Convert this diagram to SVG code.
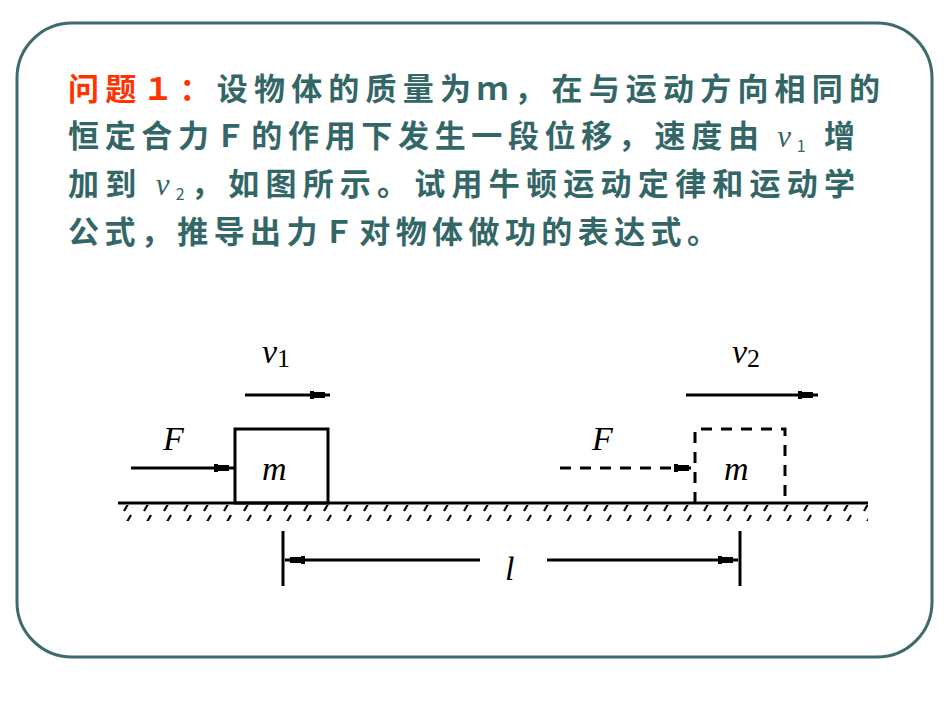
<svg xmlns="http://www.w3.org/2000/svg" width="950" height="713" viewBox="0 0 950 713">
<style>
.t{font-family:"Noto Sans CJK SC","Liberation Sans",sans-serif;font-size:31px;font-weight:bold;fill:#336666}
.r{fill:#ff3300}
.ln{stroke:#000;stroke-width:3;fill:none}
.d{stroke-dasharray:11 9}
.lab{font-family:"Liberation Serif",serif;font-style:italic;font-size:34px;fill:#000}
</style>
<defs>
<marker id="ah" viewBox="0 0 20 10" refX="20" refY="5" markerWidth="20" markerHeight="10" markerUnits="userSpaceOnUse" orient="auto"><path d="M0,1h4v8h-4zM3,2h12v6h-12z" fill="#000"/></marker>
<pattern id="hatch" width="20" height="16" patternUnits="userSpaceOnUse"><path d="M4,15L11,3" stroke="#000" stroke-width="2.2"/></pattern>
</defs>
<rect x="17" y="23" width="915" height="634" rx="55" fill="#fff" stroke="#3d6b6b" stroke-width="3"/>
<g id="text">
<text class="t" x="68" y="100" textLength="812" lengthAdjust="spacing"><tspan class="r">问题１：</tspan>设物体的质量为ｍ，在与运动方向相同的</text>
<text class="t" x="68" y="147" textLength="787" lengthAdjust="spacing">恒定合力Ｆ的作用下发生一段位移，速度由 <tspan font-style="italic" font-weight="normal" font-family="Liberation Serif">v</tspan><tspan font-size="16" font-weight="normal" dy="5">1</tspan><tspan dy="-5"> 增</tspan></text>
<text class="t" x="68" y="195" textLength="787" lengthAdjust="spacing">加到 <tspan font-style="italic" font-weight="normal" font-family="Liberation Serif">v</tspan><tspan font-size="16" font-weight="normal" dy="5">2</tspan><tspan dy="-5">，如图所示。试用牛顿运动定律和运动学</tspan></text>
<text class="t" x="68" y="243" textLength="650" lengthAdjust="spacing">公式，推导出力Ｆ对物体做功的表达式。</text>
</g>
<g id="ground">
<rect x="118" y="505" width="750" height="16" fill="url(#hatch)"/>
<line class="ln" x1="118" y1="503" x2="868" y2="503"/>
</g>
<g id="block1">
<rect class="ln" x="235" y="429" width="93" height="74"/>
<text class="lab" x="262" y="480">m</text>
</g>
<g id="block2">
<path class="ln d" d="M695,503V429H785V503"/>
<text class="lab" x="724" y="480">m</text>
</g>
<g id="connectors">
<line class="ln" x1="131" y1="468" x2="234" y2="468" marker-end="url(#ah)"/>
<line class="ln d" x1="560" y1="468" x2="694" y2="468" marker-end="url(#ah)"/>
<line class="ln" x1="245" y1="395" x2="330" y2="395" marker-end="url(#ah)"/>
<line class="ln" x1="686" y1="395" x2="818" y2="395" marker-end="url(#ah)"/>
<line class="ln" x1="283" y1="531" x2="283" y2="586"/>
<line class="ln" x1="740" y1="531" x2="740" y2="586"/>
<line class="ln" x1="480" y1="560" x2="285" y2="560" marker-end="url(#ah)"/>
<line class="ln" x1="547" y1="560" x2="738" y2="560" marker-end="url(#ah)"/>
</g>
<g id="labels">
<text class="lab" x="262" y="363">v<tspan font-size="26" font-style="normal" dy="4">1</tspan></text>
<text class="lab" x="732" y="363">v<tspan font-size="26" font-style="normal" dy="4">2</tspan></text>
<text class="lab" x="163" y="450">F</text>
<text class="lab" x="592" y="450">F</text>
<text class="lab" x="505" y="580">l</text>
</g>
</svg>
